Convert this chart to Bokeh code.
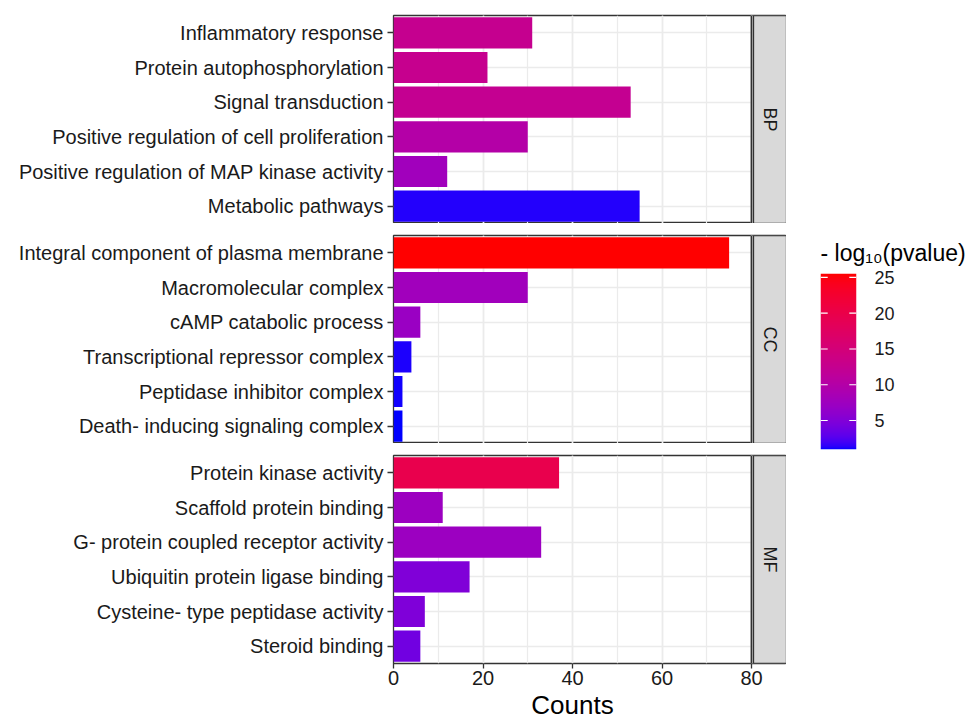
import math
import numpy as np
from bokeh.plotting import figure
from bokeh.models import (FactorRange, Range1d, SingleIntervalTicker, FixedTicker,
                          LinearColorMapper, ColumnDataSource, Title)
from bokeh.transform import transform
from bokeh.layouts import row, column
from bokeh.embed import file_html
from bokeh.resources import INLINE
from bokeh.core.properties import value

# ---------------- data ----------------
bp_terms = ["Inflammatory response", "Protein autophosphorylation", "Signal transduction",
            "Positive regulation of cell proliferation",
            "Positive regulation of MAP kinase activity", "Metabolic pathways"]
bp_counts = [31, 21, 53, 30, 12, 55]
bp_logp = [12.5, 12.6, 12.3, 10.0, 7.8, 1.25]

cc_terms = ["Integral component of plasma membrane", "Macromolecular complex",
            "cAMP catabolic process", "Transcriptional repressor complex",
            "Peptidase inhibitor complex", "Death- inducing signaling complex"]
cc_counts = [75, 30, 6, 4, 2, 2]
cc_logp = [25.55, 7.8, 7.1, 1.2, 1.1, 0.95]

mf_terms = ["Protein kinase activity", "Scaffold protein binding",
            "G- protein coupled receptor activity", "Ubiquitin protein ligase binding",
            "Cysteine- type peptidase activity", "Steroid binding"]
mf_counts = [37, 11, 33, 17, 7, 6]
mf_logp = [19.65, 7.35, 7.2, 4.9, 4.8, 4.0]

facet_labels = ["BP", "CC", "MF"]
count_limits = [0, 80]
count_tick_step = 20
legend_ticks = [5, 10, 15, 20, 25]
legend_title = "- log\u2081\u2080(pvalue)"
x_title = "Counts"
low_color, high_color = "#0000FF", "#FF0000"

# ---------------- colour scale (CIELAB interpolation like ggplot) ----------------
_M = np.array([[0.4124564, 0.3575761, 0.1804375],
               [0.2126729, 0.7151522, 0.0721750],
               [0.0193339, 0.1191920, 0.9503041]])
_Minv = np.linalg.inv(_M)
_WP = np.array([0.95047, 1.0, 1.08883])
_E = 6 / 29


def _lin(c):
    return c / 12.92 if c <= 0.04045 else ((c + 0.055) / 1.055) ** 2.4


def _gam(c):
    c = min(max(c, 0.0), 1.0)
    return 12.92 * c if c <= 0.0031308 else 1.055 * c ** (1 / 2.4) - 0.055


def hex_to_lab(h):
    rgb = np.array([_lin(int(h[i:i + 2], 16) / 255) for i in (1, 3, 5)])
    xyz = _M @ rgb / _WP
    f = np.where(xyz > _E ** 3, np.cbrt(xyz), xyz / (3 * _E ** 2) + 4 / 29)
    return np.array([116 * f[1] - 16, 500 * (f[0] - f[1]), 200 * (f[1] - f[2])])


def lab_to_hex(lab):
    L, a, b = lab
    fy = (L + 16) / 116
    f = np.array([fy + a / 500, fy, fy - b / 200])
    xyz = np.where(f > _E, f ** 3, 3 * _E ** 2 * (f - 4 / 29)) * _WP
    rgb = _Minv @ xyz
    return "#%02x%02x%02x" % tuple(int(round(_gam(c) * 255)) for c in rgb)


_lo_lab, _hi_lab = hex_to_lab(low_color), hex_to_lab(high_color)
palette = [lab_to_hex(_lo_lab + (_hi_lab - _lo_lab) * t) for t in np.linspace(0, 1, 256)]
all_logp = bp_logp + cc_logp + mf_logp
lo, hi = min(all_logp), max(all_logp)
mapper = LinearColorMapper(palette=palette, low=lo, high=hi)

# ---------------- layout constants ----------------
FONT = "Liberation Sans"
TEXT = "#1A1A1A"
BORDER = "#333333"
GRID = "#EBEBEB"
LEFT = 393
PANEL_W = 358
GAP_PX = 2
FRAME_W = 393
FRAME_H = 208
TOPS = [15, 12, 12]
BOTTOM = 58
x_end = count_limits[1] * FRAME_W / PANEL_W
gap_units = GAP_PX * count_limits[1] / PANEL_W
X_TITLE_SIZE = 26
x_title_offset = PANEL_W / 2 - 0.5 * 3.168 * X_TITLE_SIZE


def make_panel(terms, counts, logp, facet, top, bottom_axis):
    n = len(terms)
    p = figure(y_range=FactorRange(factors=list(reversed(terms))),
               x_range=Range1d(count_limits[0], x_end),
               frame_width=FRAME_W, frame_height=FRAME_H,
               min_border_left=LEFT, min_border_right=0, min_border_top=top,
               min_border_bottom=BOTTOM if bottom_axis else 0,
               x_axis_location="below" if bottom_axis else None,
               toolbar_location=None, output_backend="svg")
    p.background_fill_color = "white"
    p.border_fill_color = "white"
    p.outline_line_color = BORDER
    p.outline_line_width = 1.3

    ticker = SingleIntervalTicker(interval=count_tick_step, num_minor_ticks=2)
    p.xgrid.ticker = ticker
    p.xgrid.grid_line_color = GRID
    p.xgrid.grid_line_width = 1.6
    p.xgrid.minor_grid_line_color = GRID
    p.xgrid.minor_grid_line_width = 1.2
    p.ygrid.grid_line_color = GRID
    p.ygrid.grid_line_width = 1.6

    src = ColumnDataSource(dict(term=terms, count=counts, logp=logp))
    p.hbar(y="term", left=0, right="count", height=0.9, source=src,
           fill_color=transform("logp", mapper), line_color=None)

    # facet strip on the right
    p.quad(left=[count_limits[1]], right=[count_limits[1] + gap_units], bottom=[0], top=[n],
           fill_color="white", line_color=None)
    p.quad(left=[count_limits[1] + gap_units], right=[x_end], bottom=[0], top=[n],
           fill_color="#D9D9D9", line_color=BORDER, line_width=1.3)
    p.segment(x0=[count_limits[1]], x1=[count_limits[1]], y0=[0], y1=[n],
              line_color=BORDER, line_width=1.8)
    p.text(x=[(count_limits[1] + gap_units + x_end) / 2], y=[n / 2], text=[facet],
           angle=-math.pi / 2, text_align="center", text_baseline="middle",
           text_font=value(FONT), text_font_size="18px", text_color=TEXT)

    ax = p.yaxis[0]
    ax.axis_line_color = None
    ax.major_tick_out = 6
    ax.major_tick_in = 0
    ax.major_tick_line_color = BORDER
    ax.major_tick_line_width = 1.3
    ax.major_label_standoff = 4
    ax.major_label_text_font = FONT
    ax.major_label_text_font_size = "20px"
    ax.major_label_text_color = TEXT

    if bottom_axis:
        xa = p.xaxis[0]
        xa.ticker = ticker
        xa.axis_line_color = None
        xa.major_tick_out = 5
        xa.major_tick_in = 0
        xa.minor_tick_line_color = None
        xa.major_tick_line_color = BORDER
        xa.major_tick_line_width = 1.3
        xa.major_label_standoff = 2
        xa.major_label_text_font = FONT
        xa.major_label_text_font_size = "20px"
        xa.major_label_text_color = TEXT
        p.add_layout(Title(text=x_title, align="left", offset=x_title_offset, standoff=0,
                           text_font=FONT, text_font_size="%dpx" % X_TITLE_SIZE,
                           text_font_style="normal", text_color="black"), "below")
    return p


p1 = make_panel(bp_terms, bp_counts, bp_logp, facet_labels[0], TOPS[0], False)
p2 = make_panel(cc_terms, cc_counts, cc_logp, facet_labels[1], TOPS[1], False)
p3 = make_panel(mf_terms, mf_counts, mf_logp, facet_labels[2], TOPS[2], True)

# ---------------- colour bar legend ----------------
LEG_W = 180
BAR_LEFT = 34
BAR_W = 36
BAR_TOP = 273
BAR_H = 176
TOTAL_H = sum(TOPS) + 3 * FRAME_H + BOTTOM
lg = figure(x_range=Range1d(0, 1), y_range=Range1d(lo, hi),
            frame_width=BAR_W, frame_height=BAR_H,
            min_border_left=BAR_LEFT, min_border_right=LEG_W - BAR_LEFT - BAR_W,
            min_border_top=BAR_TOP, min_border_bottom=TOTAL_H - BAR_TOP - BAR_H,
            x_axis_location=None, y_axis_location="right",
            title=legend_title, title_location="above",
            toolbar_location=None, output_backend="svg")
lg.outline_line_color = None
lg.grid.visible = False
grad = np.linspace(lo, hi, 256).reshape(-1, 1)
lg.image(image=[grad], x=0, y=lo, dw=1, dh=hi - lo, color_mapper=mapper)
lg.segment(x0=[0] * len(legend_ticks), x1=[0.2] * len(legend_ticks),
           y0=legend_ticks, y1=legend_ticks, line_color="white", line_width=1.2)
lg.segment(x0=[0.8] * len(legend_ticks), x1=[1] * len(legend_ticks),
           y0=legend_ticks, y1=legend_ticks, line_color="white", line_width=1.2)
ya = lg.yaxis[0]
ya.ticker = FixedTicker(ticks=legend_ticks)
ya.axis_line_color = None
ya.major_tick_line_color = None
ya.minor_tick_line_color = None
ya.major_label_standoff = 12
ya.major_label_text_font = FONT
ya.major_label_text_font_size = "18px"
ya.major_label_text_color = TEXT
lg.title.align = "left"
lg.title.text_font = FONT
lg.title.text_font_size = "23px"
lg.title.text_font_style = "normal"
lg.title.text_color = "black"
lg.title.standoff = 16

layout = row(column(p1, p2, p3), lg)
open("out.html", "w").write(file_html(layout, INLINE))
